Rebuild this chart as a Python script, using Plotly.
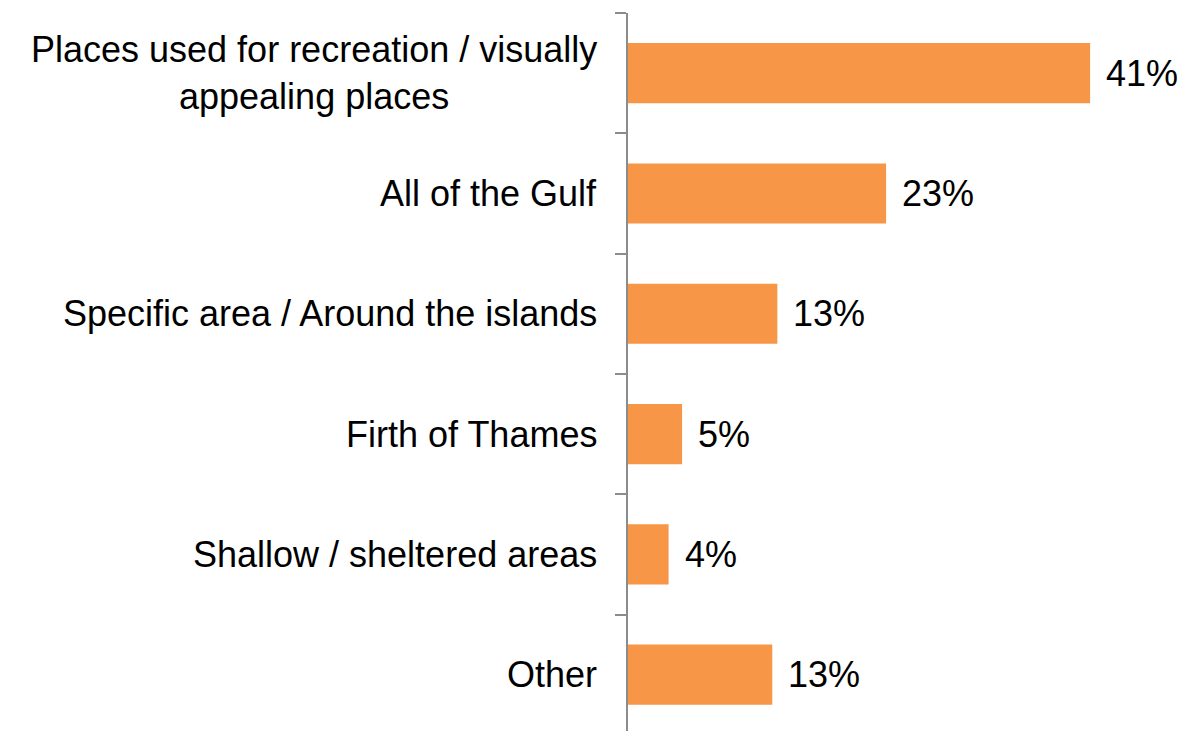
import plotly.graph_objects as go

categories = [
    "Places used for recreation / visually<br>appealing places",
    "All of the Gulf",
    "Specific area / Around the islands",
    "Firth of Thames",
    "Shallow / sheltered areas",
    "Other",
]
values = [41.0, 22.9, 13.25, 4.8, 3.6, 12.8]
value_labels = ["41%", "23%", "13%", "5%", "4%", "13%"]

FONT = "Liberation Sans, Arial, sans-serif"
BAR_COLOR = "#F79646"
FS = 36

fig = go.Figure(
    go.Bar(
        y=categories,
        x=values,
        orientation="h",
        marker=dict(color=BAR_COLOR, line=dict(width=0)),
        hoverinfo="skip",
    )
)

annotations = []
for cat, val, lab in zip(categories, values, value_labels):
    annotations.append(dict(
        x=0, xref="paper", y=cat, yref="y",
        text=cat, showarrow=False, xanchor="right", yanchor="middle",
        align="center", xshift=-29,
        font=dict(family=FONT, size=FS, color="black"),
    ))
    annotations.append(dict(
        x=val, xref="x", y=cat, yref="y",
        text=lab, showarrow=False, xanchor="left", yanchor="middle",
        xshift=14,
        font=dict(family=FONT, size=FS, color="black"),
    ))

fig.update_layout(
    width=1183, height=731,
    margin=dict(l=628, r=14, t=13, b=0, autoexpand=False),
    paper_bgcolor="white", plot_bgcolor="white",
    bargap=0.5,
    showlegend=False,
    annotations=annotations,
    xaxis=dict(range=[0, 48], visible=False, automargin=False),
    yaxis=dict(
        type="category",
        range=[5.468, -0.5],
        showticklabels=False,
        automargin=False,
        showline=True, linecolor="#8c8c8c", linewidth=1.5,
        ticks="outside", ticklen=11, tickcolor="#8c8c8c", tickwidth=1.5,
        tickson="boundaries",
        showgrid=False, zeroline=False,
    ),
)

fig.write_html(
    "out.html",
    config={"displayModeBar": False},
    post_script="document.body.style.margin='0';document.body.style.overflow='hidden';",
)
